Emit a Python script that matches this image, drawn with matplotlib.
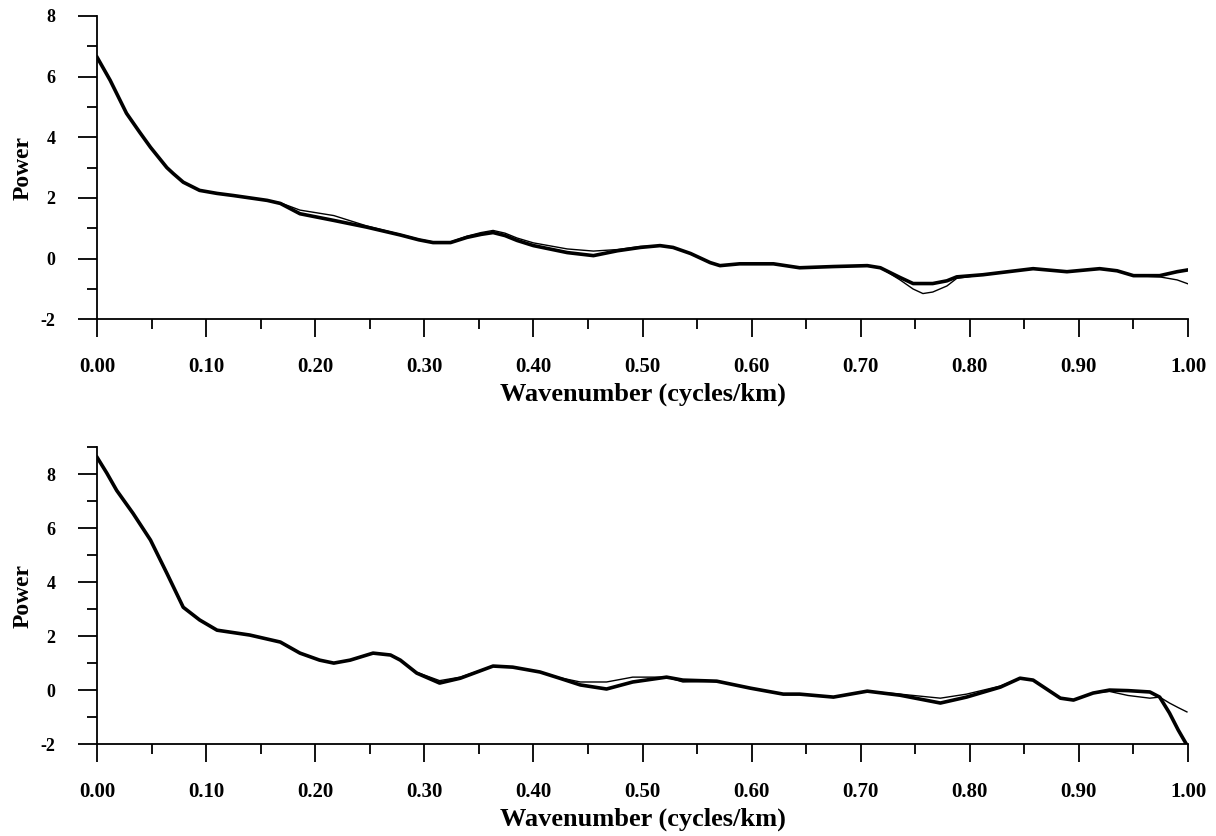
import matplotlib
matplotlib.use('Agg')
import matplotlib.pyplot as plt
from matplotlib.ticker import MultipleLocator, FormatStrFormatter

# top panel: thick and thin spectra
top_x = [0.0, 0.012, 0.027, 0.039, 0.049, 0.064, 0.070, 0.079, 0.094, 0.110, 0.125,
         0.156, 0.168, 0.186, 0.217, 0.247, 0.278, 0.295, 0.308, 0.324, 0.339, 0.352,
         0.363, 0.374, 0.385, 0.400, 0.431, 0.455, 0.477, 0.498, 0.516, 0.528, 0.544,
         0.562, 0.571, 0.589, 0.620, 0.644, 0.675, 0.706, 0.718, 0.736, 0.748, 0.757,
         0.766, 0.779, 0.788, 0.812, 0.828, 0.858, 0.889, 0.919, 0.935, 0.950, 0.974,
         0.990, 1.0]
top_thick = [6.64, 5.88, 4.79, 4.17, 3.67, 3.0, 2.8, 2.52, 2.25, 2.15, 2.08,
             1.92, 1.82, 1.48, 1.26, 1.04, 0.78, 0.62, 0.53, 0.53, 0.7, 0.8,
             0.86, 0.76, 0.6, 0.43, 0.2, 0.1, 0.26, 0.37, 0.43, 0.37, 0.17,
             -0.13, -0.23, -0.17, -0.17, -0.3, -0.26, -0.23, -0.3, -0.62, -0.82, -0.82,
             -0.82, -0.73, -0.6, -0.53, -0.46, -0.33, -0.43, -0.33, -0.4, -0.56, -0.56,
             -0.43, -0.37]
top_thin = [6.64, 5.88, 4.79, 4.17, 3.67, 3.0, 2.8, 2.52, 2.25, 2.15, 2.08,
            1.92, 1.84, 1.6, 1.42, 1.08, 0.8, 0.64, 0.55, 0.55, 0.74, 0.86,
            0.93, 0.84, 0.68, 0.52, 0.32, 0.25, 0.3, 0.4, 0.43, 0.37, 0.17,
            -0.13, -0.23, -0.17, -0.17, -0.3, -0.26, -0.23, -0.3, -0.7, -1.0, -1.15,
            -1.1, -0.9, -0.65, -0.53, -0.46, -0.33, -0.43, -0.33, -0.4, -0.56, -0.6,
            -0.7, -0.83]

# bottom panel
bot_x = [0.0, 0.009, 0.018, 0.033, 0.049, 0.064, 0.079, 0.094, 0.110, 0.140, 0.168,
         0.186, 0.204, 0.217, 0.232, 0.253, 0.269, 0.278, 0.293, 0.314, 0.333, 0.363,
         0.381, 0.406, 0.424, 0.443, 0.467, 0.491, 0.522, 0.537, 0.568, 0.599, 0.629,
         0.644, 0.675, 0.706, 0.736, 0.773, 0.797, 0.828, 0.846, 0.858, 0.883, 0.895,
         0.913, 0.928, 0.945, 0.965, 0.974, 0.983, 0.991, 0.999]
bot_thick = [8.63, 8.04, 7.4, 6.55, 5.56, 4.33, 3.07, 2.6, 2.22, 2.04, 1.78,
             1.37, 1.11, 1.0, 1.11, 1.37, 1.3, 1.11, 0.63, 0.26, 0.44, 0.89,
             0.85, 0.67, 0.44, 0.19, 0.04, 0.3, 0.48, 0.37, 0.33, 0.07, -0.15,
             -0.15, -0.26, -0.04, -0.19, -0.48, -0.26, 0.11, 0.44, 0.37, -0.3, -0.37,
             -0.11, 0.0, -0.02, -0.07, -0.26, -0.85, -1.48, -2.04]
bot_thin = [8.63, 8.04, 7.4, 6.55, 5.56, 4.33, 3.07, 2.6, 2.22, 2.04, 1.78,
            1.37, 1.11, 1.0, 1.11, 1.37, 1.3, 1.11, 0.66, 0.35, 0.48, 0.89,
            0.85, 0.67, 0.46, 0.3, 0.3, 0.48, 0.48, 0.3, 0.33, 0.07, -0.15,
            -0.15, -0.26, -0.04, -0.15, -0.3, -0.15, 0.15, 0.44, 0.37, -0.3, -0.37,
            -0.11, -0.05, -0.2, -0.3, -0.26, -0.48, -0.65, -0.81]

plt.rcParams['font.family'] = ['Liberation Serif', 'DejaVu Serif']
plt.rcParams['font.weight'] = 'bold'
plt.rcParams['axes.unicode_minus'] = False

fig = plt.figure(figsize=(12.16, 8.36), dpi=100)
ax1 = fig.add_axes([0.0798, 0.618, 0.8972, 0.363])
ax2 = fig.add_axes([0.0798, 0.110, 0.8972, 0.355])

panels = [
    (ax1, top_x, top_thick, top_thin, (-2, 8)),
    (ax2, bot_x, bot_thick, bot_thin, (-2, 9)),
]

for ax, xs, thick, thin, ylim in panels:
    ax.plot(xs, thin, color='black', lw=1.0)
    ax.plot(xs, thick, color='black', lw=2.6)
    ax.set_xlim(0, 1)
    ax.set_ylim(*ylim)
    ax.spines['top'].set_visible(False)
    ax.spines['right'].set_visible(False)
    ax.spines['left'].set_linewidth(1.3)
    ax.spines['bottom'].set_linewidth(1.3)
    ax.xaxis.set_major_locator(MultipleLocator(0.1))
    ax.xaxis.set_minor_locator(MultipleLocator(0.05))
    ax.xaxis.set_major_formatter(FormatStrFormatter('%.2f'))
    ax.yaxis.set_major_locator(MultipleLocator(2))
    ax.yaxis.set_minor_locator(MultipleLocator(1))
    ax.tick_params(axis='x', which='major', direction='out', length=13, width=1.3,
                   pad=14, labelsize=15)
    ax.tick_params(axis='x', which='minor', direction='out', length=7, width=1.3)
    ax.tick_params(axis='y', which='major', direction='out', length=14, width=1.3,
                   pad=16, labelsize=13)
    ax.tick_params(axis='y', which='minor', direction='out', length=7, width=1.3)
    for lab in ax.get_xticklabels() + ax.get_yticklabels():
        lab.set_fontweight('bold')
    ax.set_xlabel('Wavenumber (cycles/km)', fontsize=19, fontweight='bold', labelpad=4)
    ax.set_ylabel('Power', fontsize=17, fontweight='bold', labelpad=5)

fig.savefig('out.png', dpi=100)
